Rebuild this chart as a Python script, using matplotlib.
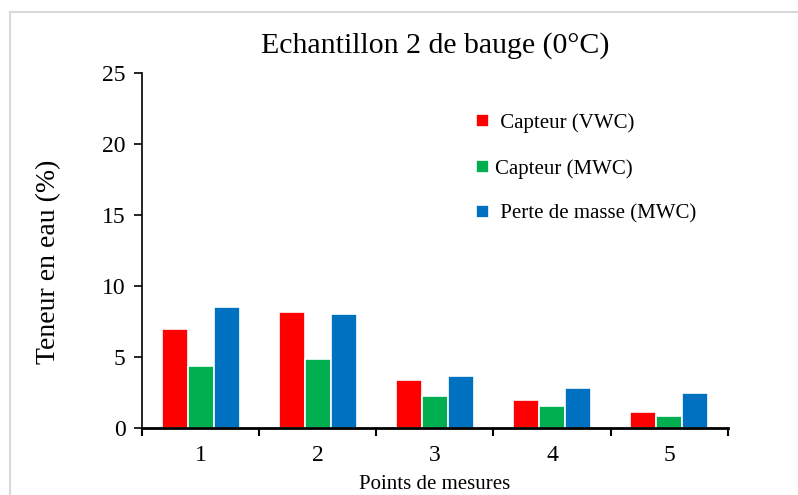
import matplotlib
matplotlib.use("Agg")
import matplotlib.pyplot as plt
from matplotlib.patches import Rectangle
import numpy as np

# teneur en eau mesuree aux 5 points
points = ["1", "2", "3", "4", "5"]
capteur_vwc = [7.0, 8.2, 3.35, 2.0, 1.15]
capteur_mwc = [4.35, 4.85, 2.25, 1.55, 0.85]
perte_masse = [8.55, 8.05, 3.65, 2.85, 2.45]

labels = [" Capteur (VWC)", "Capteur (MWC)", " Perte de masse (MWC)"]
colors = ["#FF0000", "#00B050", "#0070C0"]

plt.rcParams['font.family'] = ['Liberation Serif', 'DejaVu Serif']

fig = plt.figure(figsize=(7.98, 4.95), dpi=100)
ax = fig.add_axes([0.178, 0.1354, 0.734, 0.717])

x = np.arange(1, len(points) + 1)
w = 0.222
for i, (vals, lab, col) in enumerate(zip([capteur_vwc, capteur_mwc, perte_masse], labels, colors)):
    ax.bar(x + (i - 1) * w, vals, width=w, color=col, edgecolor="white",
           linewidth=1.2, label=lab, zorder=2)

ax.set_xlim(0.5, 5.5)
ax.set_ylim(0, 25)
ax.set_yticks(range(0, 26, 5))
ax.set_xticks(x)
ax.set_xticklabels(points)
ax.set_xticks(np.arange(0.5, 5.6, 1), minor=True)
ax.tick_params(axis="x", which="major", length=0, pad=12, labelsize=17)
ax.tick_params(axis="x", which="minor", length=6, width=1.5, direction="out")
ax.tick_params(axis="y", length=6, width=1.2, labelsize=17, pad=6)

for s in ["top", "right"]:
    ax.spines[s].set_visible(False)
ax.spines["left"].set_linewidth(1.2)
ax.spines["bottom"].set_linewidth(2)

ax.set_title("Echantillon 2 de bauge (0°C)", fontsize=21.5, pad=15)
ax.set_ylabel("Teneur en eau (%)", fontsize=20)
ax.yaxis.set_label_coords(-0.138, 0.468)
fig.text(0.545, 0.022, "Points de mesures", ha="center", va="center", fontsize=15)

ax.legend(loc="upper left", bbox_to_anchor=(0.538, 0.94), frameon=False,
          fontsize=15, handlelength=0.62, handleheight=0.62, handletextpad=0.3,
          labelspacing=1.25)

# cadre gris autour du graphique
fig.patches.append(Rectangle((10 / 798, -0.01), 1.0, 1 - 12 / 495 + 0.01,
                             transform=fig.transFigure, fill=False,
                             edgecolor="#D9D9D9", linewidth=1.5))

fig.savefig("out.png", dpi=100)
